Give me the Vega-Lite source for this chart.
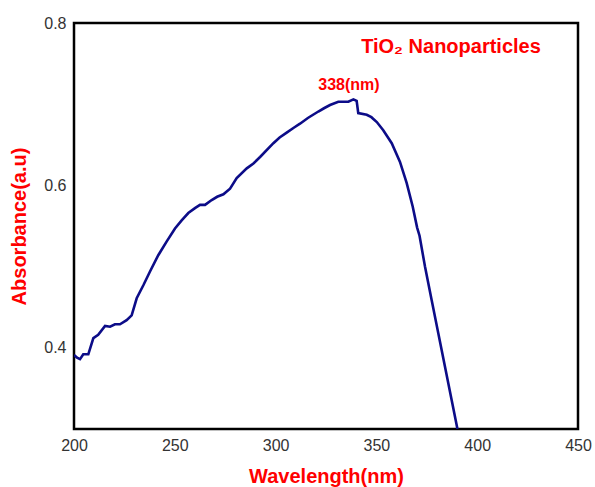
{
  "$schema": "https://vega.github.io/schema/vega-lite/v6.json",
  "width": 504,
  "height": 406,
  "autosize": "none",
  "padding": {"left": 74, "top": 23, "right": 17, "bottom": 58},
  "background": "white",
  "config": {
    "font": "Liberation Sans",
    "view": {"stroke": "#000000", "strokeWidth": 2.5},
    "axis": {
      "domain": false,
      "ticks": false,
      "grid": false,
      "labelFlush": false,
      "labelFont": "Liberation Sans",
      "labelFontSize": 16,
      "labelColor": "#333333",
      "labelPadding": 8,
      "titleFont": "Liberation Sans",
      "titleFontSize": 20,
      "titleFontWeight": "bold",
      "titleColor": "#ff0000"
    }
  },
  "layer": [
    {
      "data": {
        "values": [
          {"wl": 200, "abs": 0.391}, {"wl": 201.5, "abs": 0.388}, {"wl": 203, "abs": 0.386},
          {"wl": 204.6, "abs": 0.392}, {"wl": 207.1, "abs": 0.392}, {"wl": 209.6, "abs": 0.412},
          {"wl": 212, "abs": 0.416}, {"wl": 215.4, "abs": 0.427}, {"wl": 217.9, "abs": 0.426},
          {"wl": 220.3, "abs": 0.429}, {"wl": 222.8, "abs": 0.429}, {"wl": 226.1, "abs": 0.434},
          {"wl": 228.6, "abs": 0.44}, {"wl": 231.1, "abs": 0.461}, {"wl": 234.4, "abs": 0.477},
          {"wl": 237.7, "abs": 0.494}, {"wl": 241.8, "abs": 0.514}, {"wl": 246, "abs": 0.531},
          {"wl": 250.1, "abs": 0.547}, {"wl": 253.4, "abs": 0.557}, {"wl": 256.7, "abs": 0.566},
          {"wl": 260, "abs": 0.572}, {"wl": 262.5, "abs": 0.576}, {"wl": 265, "abs": 0.576},
          {"wl": 268.3, "abs": 0.582}, {"wl": 271, "abs": 0.586}, {"wl": 274.1, "abs": 0.589},
          {"wl": 277.4, "abs": 0.596}, {"wl": 280.7, "abs": 0.609}, {"wl": 285.7, "abs": 0.621},
          {"wl": 289, "abs": 0.627}, {"wl": 292.3, "abs": 0.635}, {"wl": 298.9, "abs": 0.652},
          {"wl": 302, "abs": 0.659}, {"wl": 305.5, "abs": 0.665}, {"wl": 309, "abs": 0.671},
          {"wl": 312.1, "abs": 0.676}, {"wl": 316, "abs": 0.683}, {"wl": 321.2, "abs": 0.691},
          {"wl": 324, "abs": 0.695}, {"wl": 327, "abs": 0.699}, {"wl": 331.1, "abs": 0.703},
          {"wl": 336.1, "abs": 0.703}, {"wl": 338.6, "abs": 0.706}, {"wl": 340.2, "abs": 0.704},
          {"wl": 341, "abs": 0.689}, {"wl": 345.2, "abs": 0.687}, {"wl": 347.5, "abs": 0.684},
          {"wl": 350.2, "abs": 0.678}, {"wl": 353.4, "abs": 0.668}, {"wl": 357.6, "abs": 0.652},
          {"wl": 361.7, "abs": 0.629}, {"wl": 365, "abs": 0.603}, {"wl": 368, "abs": 0.574},
          {"wl": 370.2, "abs": 0.548}, {"wl": 371.4, "abs": 0.538}, {"wl": 374.1, "abs": 0.5},
          {"wl": 377.4, "abs": 0.459}, {"wl": 380.7, "abs": 0.418}, {"wl": 384, "abs": 0.377},
          {"wl": 387.3, "abs": 0.336}, {"wl": 390.2, "abs": 0.3}
        ]
      },
      "mark": {"type": "line", "color": "#0c0c88", "strokeWidth": 2.6, "clip": true},
      "encoding": {
        "x": {
          "field": "wl", "type": "quantitative",
          "scale": {"domain": [200, 450], "nice": false, "zero": false},
          "axis": {"values": [200, 250, 300, 350, 400, 450], "title": "Wavelength(nm)", "titlePadding": 13}
        },
        "y": {
          "field": "abs", "type": "quantitative",
          "scale": {"domain": [0.3, 0.8], "nice": false, "zero": false},
          "axis": {"values": [0.4, 0.6, 0.8], "format": ".1f", "title": "Absorbance(a.u)", "titlePadding": 14}
        }
      }
    },
    {
      "data": {
        "values": [
          {"wl": 387, "abs": 0.7705, "label": "TiO₂ Nanoparticles"}
        ]
      },
      "mark": {"type": "text", "color": "#ff0000", "fontWeight": "bold", "fontSize": 20, "baseline": "middle", "align": "center", "font": "Liberation Sans"},
      "encoding": {
        "x": {"field": "wl", "type": "quantitative"},
        "y": {"field": "abs", "type": "quantitative"},
        "text": {"field": "label"}
      }
    },
    {
      "data": {
        "values": [
          {"wl": 336.4, "abs": 0.7236, "label": "338(nm)"}
        ]
      },
      "mark": {"type": "text", "color": "#ff0000", "fontWeight": "bold", "fontSize": 16, "baseline": "middle", "align": "center", "font": "Liberation Sans"},
      "encoding": {
        "x": {"field": "wl", "type": "quantitative"},
        "y": {"field": "abs", "type": "quantitative"},
        "text": {"field": "label"}
      }
    }
  ]
}
